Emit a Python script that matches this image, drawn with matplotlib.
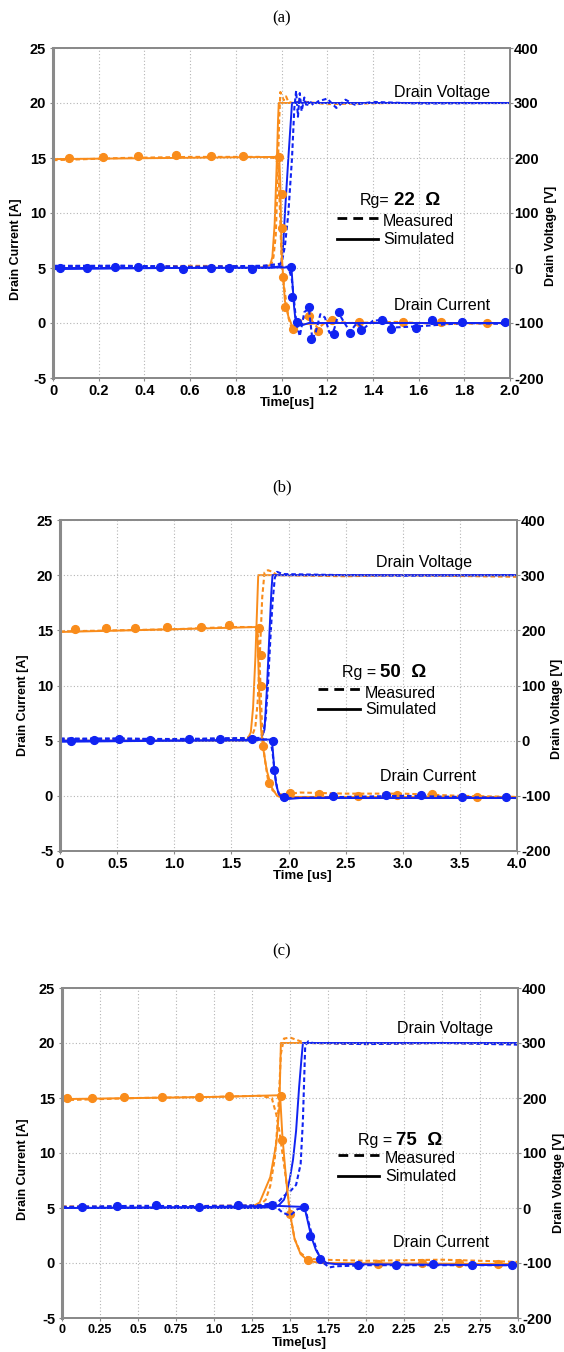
import matplotlib
matplotlib.use("Agg")
import matplotlib.pyplot as plt

plt.rcParams.update({
    "font.family": ["Liberation Sans", "DejaVu Sans"],
    "font.size": 10,
    "axes.linewidth": 1.4,
})

ORANGE = "#F98C1B"
BLUE = "#1023F2"
GRIDC = "#b4b4b4"
SPINEC = "#8a8a8a"

# ---------------- panel (a)  Rg = 22 ohm ----------------
a_oi_sim_t = [0, 0.5, 0.98, 0.99, 0.995, 1.0, 1.007, 1.015, 1.03, 1.045, 1.06, 1.1, 1.2, 2.0]
a_oi_sim = [14.9, 15.0, 15.1, 15.1, 12.5, 6.5, 4.3, 2.0, 0.6, -0.2, -0.3, -0.1, 0.0, 0.0]
a_oi_mea_t = [0, 0.3, 0.6, 0.9, 0.97, 0.985, 0.99, 0.995, 1.0, 1.005, 1.01, 1.02, 1.03, 1.045,
              1.06, 1.08, 1.1, 1.13, 1.16, 1.2, 1.3, 1.5, 1.7, 2.0]
a_oi_mea = [14.8, 15.0, 15.1, 15.1, 15.0, 14.5, 12.0, 9.0, 6.0, 4.5, 3.5, 2.0, 0.5, -0.5,
            -0.6, 0.1, 0.5, 0.3, -0.5, 0.2, 0.0, 0.1, -0.1, 0.0]
a_ov_sim_t = [0, 0.9, 0.95, 0.96, 0.97, 0.98, 0.985, 0.988, 2.0]
a_ov_sim = [0, 0, 5, 20, 80, 200, 270, 300, 300]
a_ov_mea_t = [0, 0.3, 0.6, 0.9, 0.955, 0.965, 0.975, 0.982, 0.99, 0.995, 1.0, 1.01, 1.02,
              1.03, 1.05, 1.08, 1.2, 1.5, 2.0]
a_ov_mea = [3, 2, 4, 3, 5, 20, 60, 150, 270, 320, 315, 305, 312, 302, 300, 303, 298, 300, 300]
a_bi_sim_t = [0, 0.5, 1.04, 1.045, 1.05, 1.055, 1.06, 1.07, 1.09, 1.12, 2.0]
a_bi_sim = [4.9, 5.0, 5.05, 4.6, 3.0, 1.5, 0.5, -0.1, -0.2, 0.0, 0.0]
a_bi_mea_t = [0, 0.3, 0.6, 0.9, 1.03, 1.045, 1.055, 1.065, 1.08, 1.1, 1.12, 1.135, 1.15, 1.17,
              1.19, 1.21, 1.23, 1.25, 1.27, 1.3, 1.33, 1.36, 1.4, 1.45, 1.5, 1.6, 1.8, 2.0]
a_bi_mea = [5.2, 5.2, 5.1, 5.2, 5.1, 4.0, 2.0, 0.0, -1.2, 1.0, 1.3, -1.5, -0.8, 0.8,
            0.5, -0.9, -0.6, 0.9, 0.2, -0.8, 0.0, -0.5, 0.2, 0.3, -0.4, -0.3, 0.0, -0.1]
a_bv_sim_t = [0, 0.95, 0.99, 1.0, 1.008, 1.015, 1.03, 1.046, 2.0]
a_bv_sim = [0, 0, 3, 12, 45, 100, 200, 300, 300]
a_bv_mea_t = [0, 0.3, 0.6, 0.9, 1.0, 1.015, 1.03, 1.046, 1.056, 1.064, 1.072, 1.08, 1.088,
              1.1, 1.11, 1.12, 1.14, 1.16, 1.2, 1.24, 1.28, 1.32, 1.4, 1.6, 2.0]
a_bv_mea = [3, 4, 2, 3, 8, 40, 100, 200, 290, 322, 275, 318, 285, 310, 293, 305, 296, 303,
            308, 291, 306, 297, 302, 299, 300]
a_om_t = [0.07, 0.22, 0.37, 0.54, 0.69, 0.83, 0.99, 1.0, 1.0, 1.007, 1.015, 1.05, 1.12, 1.16,
          1.22, 1.34, 1.53, 1.70, 1.90]
a_om = [15.0, 15.1, 15.2, 15.3, 15.2, 15.2, 15.1, 11.7, 8.6, 4.2, 1.5, -0.5, 0.6, -0.7,
        0.3, 0.1, 0.1, 0.1, 0.0]
a_bm_t = [0.03, 0.15, 0.27, 0.37, 0.47, 0.57, 0.69, 0.77, 0.87, 1.04, 1.046, 1.068, 1.12, 1.13,
          1.23, 1.25, 1.30, 1.35, 1.44, 1.48, 1.59, 1.66, 1.79, 1.98]
a_bm = [5.0, 5.0, 5.1, 5.1, 5.1, 4.9, 5.0, 5.0, 4.9, 5.1, 2.4, 0.1, 1.5, -1.45,
        -1.0, 1.0, -0.9, -0.6, 0.3, -0.5, -0.45, 0.3, 0.1, 0.1]

# ---------------- panel (b)  Rg = 50 ohm ----------------
b_oi_sim_t = [0, 1.0, 1.72, 1.73, 1.745, 1.76, 1.78, 1.81, 1.85, 1.9, 1.95, 2.0, 4.0]
b_oi_sim = [14.85, 15.1, 15.3, 14.0, 9.0, 6.0, 4.2, 2.3, 0.8, 0.0, -0.2, -0.1, -0.1]
b_oi_mea_t = [0, 0.5, 1.0, 1.5, 1.72, 1.74, 1.755, 1.77, 1.79, 1.82, 1.86, 1.9, 1.95, 2.1,
              2.5, 3.0, 3.5, 4.0]
b_oi_mea = [14.9, 15.0, 15.1, 15.3, 15.3, 14.0, 10.0, 6.0, 3.5, 1.5, 0.5, 0.2, 0.1, 0.3,
            0.2, 0.2, 0.0, -0.1]
b_ov_sim_t = [0, 1.6, 1.64, 1.67, 1.69, 1.71, 1.735, 4.0]
b_ov_sim = [0, 0, 2, 15, 60, 150, 300, 300]
b_ov_mea_t = [0, 1.0, 1.6, 1.68, 1.71, 1.73, 1.75, 1.77, 1.79, 1.82, 1.86, 1.9, 2.5, 3.0, 4.0]
b_ov_mea = [3, 2, 4, 8, 25, 70, 160, 260, 305, 309, 306, 300, 298, 300, 297]
b_bi_sim_t = [0, 1.0, 1.85, 1.86, 1.875, 1.89, 1.91, 1.94, 1.98, 2.1, 4.0]
b_bi_sim = [4.9, 5.0, 5.1, 4.5, 2.5, 1.2, 0.3, -0.2, -0.3, -0.2, -0.2]
b_bi_mea_t = [0, 0.5, 1.0, 1.5, 1.84, 1.86, 1.88, 1.9, 1.93, 1.96, 2.0, 2.5, 3.0, 3.5, 4.0]
b_bi_mea = [5.1, 5.2, 5.1, 5.2, 5.1, 4.0, 2.0, 0.7, -0.2, -0.4, -0.2, -0.1, 0.0, -0.1, -0.2]
b_bv_sim_t = [0, 1.7, 1.76, 1.79, 1.81, 1.83, 1.85, 1.86, 4.0]
b_bv_sim = [0, 0, 3, 20, 90, 180, 270, 300, 300]
b_bv_mea_t = [0, 1.0, 1.75, 1.78, 1.80, 1.82, 1.84, 1.86, 1.88, 1.9, 1.95, 2.5, 3.0, 4.0]
b_bv_mea = [4, 3, 5, 15, 40, 100, 180, 250, 295, 306, 302, 300, 299, 300]
b_om_t = [0.13, 0.40, 0.66, 0.94, 1.23, 1.48, 1.74, 1.76, 1.76, 1.78, 1.83, 2.01, 2.27, 2.61,
          2.95, 3.26, 3.65]
b_om = [15.1, 15.2, 15.2, 15.3, 15.3, 15.5, 15.2, 12.8, 10.0, 4.5, 1.2, 0.3, 0.2, 0.0,
        0.1, 0.2, -0.1]
b_bm_t = [0.10, 0.30, 0.52, 0.79, 1.13, 1.40, 1.68, 1.86, 1.87, 1.96, 2.39, 2.85, 3.16, 3.52, 3.90]
b_bm = [5.0, 5.05, 5.15, 5.05, 5.15, 5.15, 5.15, 5.0, 2.3, -0.1, 0.0, 0.1, 0.1, -0.1, -0.1]

# ---------------- panel (c)  Rg = 75 ohm ----------------
c_oi_sim_t = [0, 1.0, 1.435, 1.45, 1.475, 1.5, 1.53, 1.57, 1.62, 1.7, 3.0]
c_oi_sim = [14.9, 15.1, 15.25, 11.5, 7.5, 4.5, 2.2, 0.8, 0.2, 0.0, -0.1]
c_oi_mea_t = [0, 0.5, 1.0, 1.3, 1.38, 1.41, 1.43, 1.45, 1.48, 1.5, 1.53, 1.57, 1.62, 1.7,
              2.0, 2.5, 3.0]
c_oi_mea = [14.8, 15.0, 15.1, 15.2, 15.0, 13.5, 12.0, 10.0, 7.0, 4.5, 2.2, 0.9, 0.4, 0.3,
            0.2, 0.3, 0.1]
c_ov_sim_t = [0, 1.2, 1.25, 1.30, 1.37, 1.41, 1.43, 1.44, 3.0]
c_ov_sim = [0, 0, 2, 10, 56, 118, 184, 300, 300]
c_ov_mea_t = [0, 0.5, 1.0, 1.3, 1.34, 1.37, 1.40, 1.42, 1.44, 1.46, 1.5, 1.55, 1.6, 2.0, 2.5, 3.0]
c_ov_mea = [3, 2, 4, 5, 15, 40, 90, 160, 280, 308, 310, 305, 300, 298, 300, 298]
c_bi_sim_t = [0, 1.0, 1.4, 1.59, 1.6, 1.62, 1.64, 1.67, 1.7, 1.74, 1.8, 3.0]
c_bi_sim = [5.0, 5.1, 5.2, 5.1, 4.8, 3.6, 2.4, 1.2, 0.5, 0.0, -0.1, -0.2]
c_bi_mea_t = [0, 0.5, 1.0, 1.4, 1.45, 1.5, 1.55, 1.6, 1.62, 1.65, 1.68, 1.72, 1.76, 1.8,
              2.0, 2.5, 3.0]
c_bi_mea = [5.1, 5.0, 5.2, 5.2, 4.6, 4.3, 4.9, 5.0, 3.8, 2.3, 1.0, 0.0, -0.4, -0.3,
            -0.2, -0.2, -0.2]
c_bv_sim_t = [0, 1.3, 1.40, 1.43, 1.46, 1.48, 1.50, 1.52, 1.54, 1.56, 1.575, 1.585, 3.0]
c_bv_sim = [0, 0, 2, 6, 15, 30, 55, 88, 140, 220, 270, 300, 300]
c_bv_mea_t = [0, 0.5, 1.0, 1.3, 1.42, 1.46, 1.5, 1.54, 1.57, 1.585, 1.595, 1.6, 1.62, 1.65,
              2.0, 2.5, 3.0]
c_bv_mea = [2, 4, 3, 5, 10, 22, 30, 42, 80, 160, 250, 295, 303, 300, 298, 300, 297]
c_om_t = [0.03, 0.20, 0.41, 0.66, 0.90, 1.10, 1.44, 1.45, 1.50, 1.62, 2.08, 2.37, 2.61, 2.87]
c_om = [15.0, 15.0, 15.1, 15.1, 15.1, 15.2, 15.2, 11.2, 4.5, 0.3, -0.1, 0.0, 0.0, -0.1]
c_bm_t = [0.13, 0.36, 0.62, 0.90, 1.16, 1.38, 1.59, 1.63, 1.70, 1.95, 2.20, 2.44, 2.70, 2.96]
c_bm = [5.1, 5.2, 5.3, 5.1, 5.3, 5.3, 5.1, 2.5, 0.4, -0.2, -0.2, -0.1, -0.2, -0.2]

I_TICKS = [-5, 0, 5, 10, 15, 20, 25]
V_TICKS = [-200, -100, 0, 100, 200, 300, 400]

MEAS = (0, (2.2, 1.4))
fig = plt.figure(figsize=(5.64, 13.52), dpi=100)


def draw_panel(rect, title, title_y, xmax, xticks, xticklabels, xtick_size, rg_pre, rg_val,
               pos, oi, ov, bi, bv, om, bm):
    ax = fig.add_axes(rect)
    ax2 = ax.twinx()
    ax.set_zorder(ax2.get_zorder() + 1)
    ax.patch.set_visible(False)

    # voltages on the right axis
    for (t_s, v_s, t_m, v_m), c in ((ov, ORANGE), (bv, BLUE)):
        ax2.plot(t_m, v_m, color=c, lw=1.5, ls=MEAS)
        ax2.plot(t_s, v_s, color=c, lw=1.4)
    # currents on the left axis
    for (t_s, i_s, t_m, i_m), (t_k, i_k), c in ((oi, om, ORANGE), (bi, bm, BLUE)):
        ax.plot(t_m, i_m, color=c, lw=1.5, ls=MEAS)
        ax.plot(t_s, i_s, color=c, lw=1.4)
        ax.plot(t_k, i_k, ls="none", marker="o", ms=5.6, color=c)

    ax.set_xlim(0, xmax)
    ax.set_ylim(-5, 25)
    ax2.set_ylim(-200, 400)
    ax.set_xticks(xticks)
    ax.set_xticklabels(xticklabels, fontsize=xtick_size, fontweight="bold")
    ax.set_yticks(I_TICKS)
    ax.set_yticklabels([str(v) for v in I_TICKS], fontsize=10.5, fontweight="bold")
    ax2.set_yticks(V_TICKS)
    ax2.set_yticklabels([str(v) for v in V_TICKS], fontsize=10.5, fontweight="bold")
    ax.tick_params(length=2, color=SPINEC, pad=2)
    ax.tick_params(axis="y", pad=3)
    ax2.tick_params(length=2, color=SPINEC, pad=1)

    ax.grid(True, color=GRIDC, lw=0.8, ls=(0, (1, 2)))
    for a in (ax, ax2):
        for sp in a.spines.values():
            sp.set_color(SPINEC)
            sp.set_linewidth(1.4)
    ax.spines["left"].set_linewidth(2.2)

    ax.set_ylabel("Drain Current [A]", fontsize=9, fontweight="bold")
    ax.yaxis.set_label_coords(pos["yl"][0], pos["yl"][1])
    ax2.set_ylabel("Drain Voltage [V]", fontsize=9, fontweight="bold")
    ax2.yaxis.set_label_coords(pos["yr"][0], pos["yr"][1])
    ax.set_xlabel(pos["xlabel"], fontsize=9.5, fontweight="bold")
    ax.xaxis.set_label_coords(pos["xl"][0], pos["xl"][1])

    ax.text(pos["dv"][0], pos["dv"][1], "Drain Voltage", transform=ax.transAxes,
            ha="center", va="center", fontsize=11.5)
    ax.text(pos["dc"][0], pos["dc"][1], "Drain Current", transform=ax.transAxes,
            ha="center", va="center", fontsize=11.5)

    # Rg key
    t = ax.text(pos["rg"][0], pos["rg"][1], rg_pre, transform=ax.transAxes,
                ha="left", va="center", fontsize=11.5)
    ax.annotate(rg_val, xycoords=t, xy=(1, 0.5), xytext=(3, 0), textcoords="offset points",
                ha="left", va="center", fontsize=13.5, fontweight="bold")
    lx0, lx1 = pos["key_x"]
    ax.plot([lx0, lx1], [pos["mea_y"]] * 2, transform=ax.transAxes, color="black",
            lw=2.0, ls=(0, (3.5, 2.2)), clip_on=False)
    ax.plot([lx0, lx1], [pos["sim_y"]] * 2, transform=ax.transAxes, color="black",
            lw=2.0, clip_on=False)
    ax.text(pos["txt_x"], pos["mea_y"] - 0.012, "Measured", transform=ax.transAxes,
            ha="left", va="center", fontsize=11.5)
    ax.text(pos["txt_x"], pos["sim_y"], "Simulated", transform=ax.transAxes,
            ha="left", va="center", fontsize=11.5)

    fig.text(0.5, 1 - title_y / 1352, title, ha="center", va="center",
             fontsize=12, family=["Liberation Serif", "DejaVu Serif"])


W, H = 564, 1352
draw_panel([53 / W, 1 - 378 / H, 457 / W, 330 / H], "(a)", 18, 2.0,
           [0, 0.2, 0.4, 0.6, 0.8, 1.0, 1.2, 1.4, 1.6, 1.8, 2.0],
           ["0", "0.2", "0.4", "0.6", "0.8", "1.0", "1.2", "1.4", "1.6", "1.8", "2.0"], 10.5,
           "Rg=", "22  \u03a9",
           dict(yl=(-0.068, 0.39), yr=(1.077, 0.43), xl=(0.512, -0.058), xlabel="Time[us]",
                dv=(0.851, 0.864), dc=(0.851, 0.221), rg=(0.672, 0.539),
                key_x=(0.621, 0.711), mea_y=0.485, sim_y=0.421, txt_x=0.722),
           (a_oi_sim_t, a_oi_sim, a_oi_mea_t, a_oi_mea),
           (a_ov_sim_t, a_ov_sim, a_ov_mea_t, a_ov_mea),
           (a_bi_sim_t, a_bi_sim, a_bi_mea_t, a_bi_mea),
           (a_bv_sim_t, a_bv_sim, a_bv_mea_t, a_bv_mea),
           (a_om_t, a_om), (a_bm_t, a_bm))

draw_panel([60 / W, 1 - 851 / H, 457 / W, 331 / H], "(b)", 487, 4.0,
           [0, 0.5, 1.0, 1.5, 2.0, 2.5, 3.0, 3.5, 4.0],
           ["0", "0.5", "1.0", "1.5", "2.0", "2.5", "3.0", "3.5", "4.0"], 10.5,
           "Rg =", "50  \u03a9",
           dict(yl=(-0.068, 0.44), yr=(1.074, 0.43), xl=(0.53, -0.058), xlabel="Time [us]",
                dv=(0.797, 0.873), dc=(0.806, 0.224), rg=(0.617, 0.538),
                key_x=(0.565, 0.656), mea_y=0.489, sim_y=0.429, txt_x=0.667),
           (b_oi_sim_t, b_oi_sim, b_oi_mea_t, b_oi_mea),
           (b_ov_sim_t, b_ov_sim, b_ov_mea_t, b_ov_mea),
           (b_bi_sim_t, b_bi_sim, b_bi_mea_t, b_bi_mea),
           (b_bv_sim_t, b_bv_sim, b_bv_mea_t, b_bv_mea),
           (b_om_t, b_om), (b_bm_t, b_bm))

draw_panel([62 / W, 1 - 1318 / H, 456 / W, 330 / H], "(c)", 951, 3.0,
           [0, 0.25, 0.5, 0.75, 1.0, 1.25, 1.5, 1.75, 2.0, 2.25, 2.5, 2.75, 3.0],
           ["0", "0.25", "0.5", "0.75", "1.0", "1.25", "1.5", "1.75", "2.0", "2.25", "2.5",
            "2.75", "3.0"], 9,
           "Rg =", "75  \u03a9",
           dict(yl=(-0.072, 0.45), yr=(1.077, 0.41), xl=(0.52, -0.058), xlabel="Time[us]",
                dv=(0.84, 0.876), dc=(0.831, 0.23), rg=(0.649, 0.539),
                key_x=(0.605, 0.695), mea_y=0.494, sim_y=0.430, txt_x=0.708),
           (c_oi_sim_t, c_oi_sim, c_oi_mea_t, c_oi_mea),
           (c_ov_sim_t, c_ov_sim, c_ov_mea_t, c_ov_mea),
           (c_bi_sim_t, c_bi_sim, c_bi_mea_t, c_bi_mea),
           (c_bv_sim_t, c_bv_sim, c_bv_mea_t, c_bv_mea),
           (c_om_t, c_om), (c_bm_t, c_bm))

fig.savefig("out.png", dpi=100)
